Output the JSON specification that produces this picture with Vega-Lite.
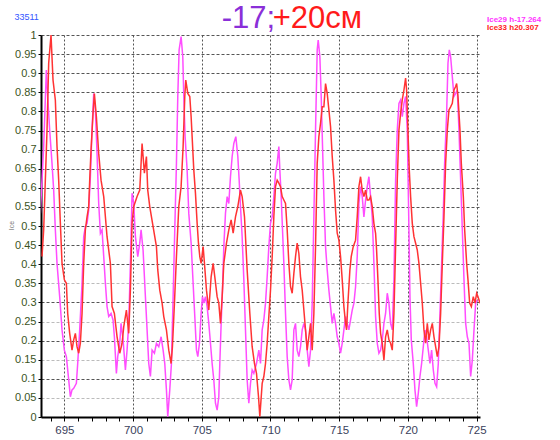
{
  "$schema": "https://vega.github.io/schema/vega-lite/v6.json",
  "width": 439,
  "height": 382,
  "autosize": {"type": "none"},
  "padding": {"left": 41, "top": 35, "right": 80, "bottom": 23},
  "background": "white",
  "title": {
    "text": "-17;\u00a0\u00a0\u00a0\u00a0\u00a0\u00a0\u00a0\u00a0\u00a0\u00a0\u200b",
    "subtitle": "\u200b\u00a0\u00a0\u00a0\u00a0\u00a0\u00a0+20см",
    "font": "Liberation Sans",
    "subtitleFont": "Liberation Sans",
    "fontSize": 31,
    "subtitleFontSize": 31,
    "fontWeight": "normal",
    "subtitleFontWeight": "normal",
    "color": "#8a2fd8",
    "subtitleColor": "#ff1a1a",
    "anchor": "middle",
    "baseline": "top",
    "subtitlePadding": -31,
    "dx": 31,
    "offset": -23
  },
  "config": {
    "view": {"stroke": null},
    "axis": {"labelFont": "Liberation Sans", "titleFont": "Liberation Sans"}
  },
  "layer": [
    {
      "data": {"values": [
{"x":693.252,"y":0.533},{"x":693.495,"y":0.708},{"x":693.689,"y":0.908},{"x":693.786,"y":0.839},{"x":693.932,"y":0.751},{"x":694.102,"y":0.664},{"x":694.223,"y":0.594},{"x":694.344,"y":0.49},{"x":694.466,"y":0.402},{"x":694.66,"y":0.315},{"x":694.83,"y":0.228},{"x":695.0,"y":0.175},{"x":695.146,"y":0.158},{"x":695.316,"y":0.097},{"x":695.437,"y":0.053},{"x":695.558,"y":0.071},{"x":695.68,"y":0.075},{"x":695.874,"y":0.088},{"x":695.971,"y":0.14},{"x":696.117,"y":0.228},{"x":696.287,"y":0.35},{"x":696.408,"y":0.472},{"x":696.529,"y":0.498},{"x":696.651,"y":0.507},{"x":696.772,"y":0.542},{"x":696.894,"y":0.629},{"x":697.015,"y":0.751},{"x":697.136,"y":0.847},{"x":697.258,"y":0.804},{"x":697.379,"y":0.69},{"x":697.5,"y":0.559},{"x":697.622,"y":0.481},{"x":697.743,"y":0.49},{"x":697.865,"y":0.42},{"x":697.986,"y":0.35},{"x":698.107,"y":0.289},{"x":698.229,"y":0.263},{"x":698.399,"y":0.271},{"x":698.544,"y":0.254},{"x":698.641,"y":0.21},{"x":698.787,"y":0.114},{"x":698.884,"y":0.158},{"x":699.03,"y":0.193},{"x":699.127,"y":0.245},{"x":699.273,"y":0.202},{"x":699.443,"y":0.123},{"x":699.564,"y":0.175},{"x":699.685,"y":0.245},{"x":699.807,"y":0.402},{"x":699.928,"y":0.586},{"x":700.05,"y":0.559},{"x":700.171,"y":0.472},{"x":700.341,"y":0.42},{"x":700.487,"y":0.455},{"x":700.584,"y":0.49},{"x":700.729,"y":0.437},{"x":700.899,"y":0.315},{"x":701.021,"y":0.228},{"x":701.142,"y":0.14},{"x":701.263,"y":0.106},{"x":701.385,"y":0.175},{"x":701.555,"y":0.167},{"x":701.701,"y":0.193},{"x":701.871,"y":0.184},{"x":702.041,"y":0.21},{"x":702.187,"y":0.175},{"x":702.308,"y":0.14},{"x":702.429,"y":0.071},{"x":702.526,"y":0.001},{"x":702.672,"y":0.071},{"x":702.793,"y":0.14},{"x":702.915,"y":0.315},{"x":703.036,"y":0.49},{"x":703.158,"y":0.664},{"x":703.255,"y":0.839},{"x":703.352,"y":0.961},{"x":703.497,"y":0.996},{"x":703.619,"y":0.943},{"x":703.692,"y":0.839},{"x":703.789,"y":0.734},{"x":703.934,"y":0.647},{"x":704.056,"y":0.533},{"x":704.226,"y":0.455},{"x":704.371,"y":0.35},{"x":704.493,"y":0.263},{"x":704.614,"y":0.175},{"x":704.711,"y":0.158},{"x":704.833,"y":0.193},{"x":704.954,"y":0.271},{"x":705.051,"y":0.315},{"x":705.148,"y":0.298},{"x":705.27,"y":0.315},{"x":705.391,"y":0.289},{"x":705.512,"y":0.245},{"x":705.634,"y":0.193},{"x":705.755,"y":0.14},{"x":705.877,"y":0.097},{"x":705.998,"y":0.036},{"x":706.119,"y":0.018},{"x":706.241,"y":0.053},{"x":706.314,"y":0.14},{"x":706.411,"y":0.245},{"x":706.508,"y":0.332},{"x":706.605,"y":0.446},{"x":706.726,"y":0.533},{"x":706.848,"y":0.577},{"x":706.969,"y":0.559},{"x":707.09,"y":0.629},{"x":707.212,"y":0.682},{"x":707.333,"y":0.716},{"x":707.479,"y":0.734},{"x":707.625,"y":0.682},{"x":707.722,"y":0.62},{"x":707.819,"y":0.551},{"x":707.94,"y":0.472},{"x":708.062,"y":0.359},{"x":708.183,"y":0.228},{"x":708.304,"y":0.097},{"x":708.426,"y":0.036},{"x":708.547,"y":0.088},{"x":708.668,"y":0.123},{"x":708.79,"y":0.114},{"x":708.984,"y":0.14},{"x":709.154,"y":0.175},{"x":709.275,"y":0.14},{"x":709.396,"y":0.228},{"x":709.518,"y":0.254},{"x":709.639,"y":0.298},{"x":709.761,"y":0.367},{"x":709.882,"y":0.446},{"x":710.003,"y":0.507},{"x":710.125,"y":0.524},{"x":710.246,"y":0.577},{"x":710.367,"y":0.638},{"x":710.489,"y":0.664},{"x":710.61,"y":0.708},{"x":710.683,"y":0.647},{"x":710.78,"y":0.577},{"x":710.877,"y":0.49},{"x":710.974,"y":0.402},{"x":711.096,"y":0.271},{"x":711.217,"y":0.158},{"x":711.339,"y":0.097},{"x":711.46,"y":0.071},{"x":711.581,"y":0.097},{"x":711.703,"y":0.228},{"x":711.824,"y":0.245},{"x":711.945,"y":0.175},{"x":712.067,"y":0.158},{"x":712.188,"y":0.184},{"x":712.31,"y":0.228},{"x":712.431,"y":0.245},{"x":712.552,"y":0.228},{"x":712.674,"y":0.175},{"x":712.795,"y":0.132},{"x":712.917,"y":0.175},{"x":713.038,"y":0.298},{"x":713.159,"y":0.524},{"x":713.281,"y":0.751},{"x":713.402,"y":0.961},{"x":713.475,"y":0.987},{"x":713.596,"y":0.943},{"x":713.693,"y":0.839},{"x":713.79,"y":0.708},{"x":713.888,"y":0.577},{"x":714.009,"y":0.446},{"x":714.13,"y":0.385},{"x":714.252,"y":0.332},{"x":714.373,"y":0.289},{"x":714.495,"y":0.245},{"x":714.616,"y":0.271},{"x":714.737,"y":0.245},{"x":714.859,"y":0.21},{"x":714.98,"y":0.193},{"x":715.101,"y":0.167},{"x":715.223,"y":0.193},{"x":715.344,"y":0.228},{"x":715.466,"y":0.263},{"x":715.587,"y":0.245},{"x":715.708,"y":0.228},{"x":715.83,"y":0.254},{"x":715.951,"y":0.28},{"x":716.073,"y":0.298},{"x":716.194,"y":0.341},{"x":716.315,"y":0.42},{"x":716.437,"y":0.559},{"x":716.558,"y":0.603},{"x":716.679,"y":0.577},{"x":716.801,"y":0.524},{"x":716.922,"y":0.568},{"x":717.044,"y":0.603},{"x":717.165,"y":0.629},{"x":717.286,"y":0.577},{"x":717.408,"y":0.524},{"x":717.529,"y":0.402},{"x":717.651,"y":0.263},{"x":717.773,"y":0.193},{"x":717.894,"y":0.167},{"x":718.015,"y":0.175},{"x":718.137,"y":0.202},{"x":718.258,"y":0.245},{"x":718.379,"y":0.271},{"x":718.501,"y":0.324},{"x":718.622,"y":0.298},{"x":718.744,"y":0.245},{"x":718.865,"y":0.228},{"x":718.986,"y":0.359},{"x":719.108,"y":0.62},{"x":719.229,"y":0.751},{"x":719.351,"y":0.821},{"x":719.472,"y":0.83},{"x":719.593,"y":0.786},{"x":719.715,"y":0.821},{"x":719.836,"y":0.839},{"x":719.957,"y":0.751},{"x":720.079,"y":0.49},{"x":720.152,"y":0.315},{"x":720.249,"y":0.202},{"x":720.394,"y":0.14},{"x":720.516,"y":0.071},{"x":720.637,"y":0.027},{"x":720.759,"y":0.062},{"x":720.88,"y":0.106},{"x":721.001,"y":0.14},{"x":721.123,"y":0.184},{"x":721.244,"y":0.228},{"x":721.366,"y":0.21},{"x":721.487,"y":0.175},{"x":721.608,"y":0.14},{"x":721.73,"y":0.175},{"x":721.851,"y":0.123},{"x":721.973,"y":0.088},{"x":722.094,"y":0.079},{"x":722.215,"y":0.14},{"x":722.337,"y":0.271},{"x":722.458,"y":0.402},{"x":722.579,"y":0.533},{"x":722.676,"y":0.664},{"x":722.822,"y":0.795},{"x":722.919,"y":0.926},{"x":723.016,"y":0.961},{"x":723.113,"y":0.943},{"x":723.235,"y":0.891},{"x":723.356,"y":0.839},{"x":723.478,"y":0.847},{"x":723.599,"y":0.856},{"x":723.72,"y":0.751},{"x":723.842,"y":0.62},{"x":723.963,"y":0.49},{"x":724.085,"y":0.359},{"x":724.206,"y":0.245},{"x":724.327,"y":0.21},{"x":724.449,"y":0.193},{"x":724.57,"y":0.106},{"x":724.691,"y":0.149},{"x":724.813,"y":0.228},{"x":724.934,"y":0.298},{"x":725.056,"y":0.306}
      ]},
      "mark": {"type": "line", "strokeWidth": 1.5, "clip": true},
      "encoding": {
        "x": {
          "field": "x", "type": "quantitative",
          "scale": {"domain": [693.3, 725.25], "nice": false, "zero": false},
          "axis": {
            "values": [694,695,696,697,698,699,700,701,702,703,704,705,706,707,708,709,710,711,712,713,714,715,716,717,718,719,720,721,722,723,724,725],
            "tickCount": 200,
            "labelOverlap": false,
            "format": "d",
            "labelExpr": "datum.value % 5 == 0 ? datum.label : ''",
            "labelFontSize": 11.5,
            "labelColor": "#3a3f5c",
            "labelPadding": 3,
            "domainColor": "#000000",
            "domainWidth": 2,
            "tickColor": "#000000",
            "tickSize": 4,
            "gridColor": "#555555",
            "gridDash": [2, 2],
            "gridOpacity": {"condition": {"test": "datum.value % 5 != 0", "value": 0}, "value": 1},
            "title": "33511",
            "titleX": -27,
            "titleY": -401,
            "titleAlign": "left",
            "titleBaseline": "middle",
            "titleFontSize": 9,
            "titleFontWeight": "normal",
            "titleColor": "#3355ff"
          }
        },
        "y": {
          "field": "y", "type": "quantitative",
          "scale": {"domain": [0, 1], "nice": false},
          "axis": {
            "values": [0,0.05,0.1,0.15,0.2,0.25,0.3,0.35,0.4,0.45,0.5,0.55,0.6,0.65,0.7,0.75,0.8,0.85,0.9,0.95,1],
            "tickCount": 200,
            "labelOverlap": false,
            "format": "~g",
            "labelFontSize": 11,
            "labelColor": "#3b5323",
            "labelPadding": 2,
            "domainColor": "#000000",
            "domainWidth": 2,
            "tickColor": "#000000",
            "tickSize": 3,
            "gridColor": {"condition": {"test": "indexof([5,15,25,35], round(datum.value*100)) >= 0", "value": "#bbbbbb"}, "value": "#555555"},
            "gridDash": [3, 2],
            "title": "Ice",
            "titleFontSize": 7,
            "titleFontWeight": "normal",
            "titleColor": "#777777",
            "titlePadding": 0,
            "titleY": 190
          }
        },
        "color": {
          "datum": "Ice29 h-17.264",
          "type": "nominal",
          "scale": {"domain": ["Ice29 h-17.264", "Ice33 h20.307"], "range": ["#ff4dff", "#ff3333"]},
          "legend": {
            "orient": "none",
            "legendX": 438,
            "legendY": -19,
            "title": null,
            "symbolSize": 0,
            "symbolOpacity": 0,
            "symbolStrokeWidth": 0,
            "labelOffset": 0,
            "rowPadding": 0,
            "labelFont": "Liberation Sans",
            "labelFontSize": 8,
            "labelFontWeight": "bold",
            "labelColor": {"expr": "datum.label == 'Ice29 h-17.264' ? '#ff33ff' : '#ff2020'"}
          }
        }
      }
    },
    {
      "data": {"values": [
{"x":693.373,"y":0.42},{"x":693.495,"y":0.49},{"x":693.738,"y":0.751},{"x":693.859,"y":0.926},{"x":694.029,"y":1.0},{"x":694.175,"y":0.882},{"x":694.344,"y":0.83},{"x":694.466,"y":0.708},{"x":694.587,"y":0.62},{"x":694.709,"y":0.507},{"x":694.83,"y":0.402},{"x":695.0,"y":0.359},{"x":695.146,"y":0.35},{"x":695.243,"y":0.271},{"x":695.388,"y":0.219},{"x":695.558,"y":0.175},{"x":695.68,"y":0.202},{"x":695.801,"y":0.219},{"x":695.922,"y":0.184},{"x":696.044,"y":0.167},{"x":696.165,"y":0.193},{"x":696.287,"y":0.271},{"x":696.408,"y":0.402},{"x":696.529,"y":0.49},{"x":696.651,"y":0.524},{"x":696.772,"y":0.551},{"x":696.845,"y":0.62},{"x":696.942,"y":0.699},{"x":697.088,"y":0.795},{"x":697.185,"y":0.847},{"x":697.331,"y":0.786},{"x":697.5,"y":0.69},{"x":697.67,"y":0.62},{"x":697.865,"y":0.577},{"x":698.107,"y":0.472},{"x":698.35,"y":0.402},{"x":698.472,"y":0.289},{"x":698.641,"y":0.271},{"x":698.836,"y":0.21},{"x":699.03,"y":0.167},{"x":699.2,"y":0.193},{"x":699.321,"y":0.236},{"x":699.515,"y":0.28},{"x":699.685,"y":0.219},{"x":699.807,"y":0.332},{"x":699.928,"y":0.507},{"x":700.05,"y":0.551},{"x":700.292,"y":0.577},{"x":700.487,"y":0.594},{"x":700.656,"y":0.716},{"x":700.826,"y":0.638},{"x":700.972,"y":0.682},{"x":701.069,"y":0.594},{"x":701.215,"y":0.551},{"x":701.701,"y":0.446},{"x":701.798,"y":0.385},{"x":701.944,"y":0.332},{"x":702.114,"y":0.298},{"x":702.235,"y":0.263},{"x":702.429,"y":0.228},{"x":702.599,"y":0.175},{"x":702.769,"y":0.14},{"x":702.866,"y":0.184},{"x":703.012,"y":0.298},{"x":703.158,"y":0.42},{"x":703.328,"y":0.551},{"x":703.497,"y":0.603},{"x":703.643,"y":0.708},{"x":703.765,"y":0.839},{"x":703.837,"y":0.882},{"x":703.983,"y":0.847},{"x":704.129,"y":0.839},{"x":704.226,"y":0.786},{"x":704.299,"y":0.734},{"x":704.42,"y":0.647},{"x":704.541,"y":0.586},{"x":704.663,"y":0.507},{"x":704.76,"y":0.455},{"x":704.857,"y":0.42},{"x":704.954,"y":0.402},{"x":705.1,"y":0.446},{"x":705.197,"y":0.402},{"x":705.343,"y":0.332},{"x":705.512,"y":0.28},{"x":705.682,"y":0.367},{"x":705.828,"y":0.402},{"x":705.949,"y":0.367},{"x":706.119,"y":0.315},{"x":706.241,"y":0.298},{"x":706.362,"y":0.245},{"x":706.484,"y":0.315},{"x":706.605,"y":0.402},{"x":706.799,"y":0.455},{"x":706.969,"y":0.49},{"x":707.139,"y":0.516},{"x":707.285,"y":0.481},{"x":707.455,"y":0.524},{"x":707.625,"y":0.551},{"x":707.819,"y":0.594},{"x":707.94,"y":0.577},{"x":708.11,"y":0.524},{"x":708.304,"y":0.385},{"x":708.499,"y":0.271},{"x":708.668,"y":0.184},{"x":708.838,"y":0.14},{"x":708.984,"y":0.114},{"x":709.13,"y":0.053},{"x":709.227,"y":0.001},{"x":709.397,"y":0.088},{"x":709.518,"y":0.106},{"x":709.639,"y":0.14},{"x":709.761,"y":0.193},{"x":709.882,"y":0.263},{"x":710.003,"y":0.332},{"x":710.125,"y":0.42},{"x":710.246,"y":0.524},{"x":710.367,"y":0.603},{"x":710.489,"y":0.62},{"x":710.61,"y":0.612},{"x":710.732,"y":0.603},{"x":710.853,"y":0.577},{"x":710.974,"y":0.568},{"x":711.096,"y":0.559},{"x":711.217,"y":0.49},{"x":711.339,"y":0.402},{"x":711.46,"y":0.341},{"x":711.581,"y":0.324},{"x":711.703,"y":0.376},{"x":711.824,"y":0.42},{"x":711.945,"y":0.455},{"x":712.067,"y":0.428},{"x":712.188,"y":0.367},{"x":712.31,"y":0.332},{"x":712.431,"y":0.28},{"x":712.552,"y":0.228},{"x":712.674,"y":0.175},{"x":712.795,"y":0.21},{"x":712.917,"y":0.245},{"x":713.038,"y":0.175},{"x":713.159,"y":0.271},{"x":713.281,"y":0.446},{"x":713.402,"y":0.664},{"x":713.523,"y":0.734},{"x":713.645,"y":0.769},{"x":713.766,"y":0.812},{"x":713.888,"y":0.812},{"x":714.009,"y":0.873},{"x":714.13,"y":0.847},{"x":714.252,"y":0.804},{"x":714.373,"y":0.76},{"x":714.495,"y":0.682},{"x":714.616,"y":0.62},{"x":714.737,"y":0.542},{"x":714.859,"y":0.481},{"x":714.98,"y":0.463},{"x":715.101,"y":0.42},{"x":715.223,"y":0.359},{"x":715.344,"y":0.289},{"x":715.466,"y":0.245},{"x":715.538,"y":0.228},{"x":715.636,"y":0.298},{"x":715.781,"y":0.385},{"x":715.878,"y":0.42},{"x":716.024,"y":0.446},{"x":716.194,"y":0.463},{"x":716.315,"y":0.524},{"x":716.437,"y":0.603},{"x":716.558,"y":0.629},{"x":716.679,"y":0.594},{"x":716.801,"y":0.577},{"x":716.922,"y":0.594},{"x":717.044,"y":0.568},{"x":717.165,"y":0.568},{"x":717.286,"y":0.577},{"x":717.408,"y":0.551},{"x":717.529,"y":0.507},{"x":717.651,"y":0.481},{"x":717.724,"y":0.437},{"x":717.821,"y":0.359},{"x":717.918,"y":0.271},{"x":718.015,"y":0.219},{"x":718.137,"y":0.193},{"x":718.258,"y":0.149},{"x":718.379,"y":0.21},{"x":718.501,"y":0.228},{"x":718.622,"y":0.202},{"x":718.744,"y":0.193},{"x":718.865,"y":0.175},{"x":718.986,"y":0.271},{"x":719.108,"y":0.446},{"x":719.229,"y":0.62},{"x":719.351,"y":0.751},{"x":719.472,"y":0.795},{"x":719.593,"y":0.83},{"x":719.715,"y":0.856},{"x":719.836,"y":0.887},{"x":719.909,"y":0.856},{"x":720.006,"y":0.751},{"x":720.103,"y":0.647},{"x":720.2,"y":0.577},{"x":720.322,"y":0.507},{"x":720.443,"y":0.472},{"x":720.564,"y":0.455},{"x":720.686,"y":0.437},{"x":720.807,"y":0.402},{"x":720.929,"y":0.35},{"x":721.05,"y":0.298},{"x":721.171,"y":0.228},{"x":721.293,"y":0.193},{"x":721.414,"y":0.245},{"x":721.535,"y":0.202},{"x":721.657,"y":0.228},{"x":721.778,"y":0.245},{"x":721.9,"y":0.21},{"x":722.021,"y":0.184},{"x":722.142,"y":0.158},{"x":722.264,"y":0.184},{"x":722.385,"y":0.271},{"x":722.507,"y":0.402},{"x":722.628,"y":0.524},{"x":722.749,"y":0.664},{"x":722.871,"y":0.751},{"x":722.992,"y":0.804},{"x":723.113,"y":0.812},{"x":723.235,"y":0.821},{"x":723.356,"y":0.856},{"x":723.478,"y":0.865},{"x":723.55,"y":0.873},{"x":723.648,"y":0.839},{"x":723.793,"y":0.751},{"x":723.89,"y":0.664},{"x":724.036,"y":0.577},{"x":724.133,"y":0.49},{"x":724.279,"y":0.402},{"x":724.376,"y":0.359},{"x":724.497,"y":0.298},{"x":724.619,"y":0.289},{"x":724.764,"y":0.315},{"x":724.886,"y":0.298},{"x":725.007,"y":0.324},{"x":725.104,"y":0.315},{"x":725.25,"y":0.298}
      ]},
      "mark": {"type": "line", "strokeWidth": 1.5, "clip": true},
      "encoding": {
        "x": {"field": "x", "type": "quantitative"},
        "y": {"field": "y", "type": "quantitative"},
        "color": {"datum": "Ice33 h20.307", "type": "nominal"}
      }
    }
  ]
}
